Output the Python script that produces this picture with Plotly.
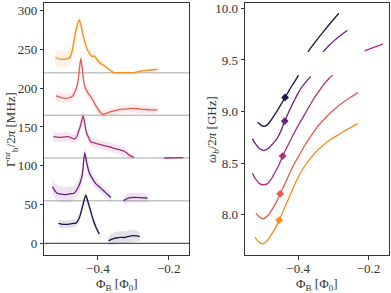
import plotly.graph_objects as go

# ---------------- data ----------------
colors = ['#1f1147', '#6a1d82', '#a7317a', '#e65b50', '#fb8c16']
offsets = [0, 55, 110, 165, 220]

# Left panel: Gamma_nr/2pi [MHz] (raw, before vertical offset); None = gap
g_x_navy = [-0.511, -0.498, -0.485, -0.472, -0.462, -0.452, -0.443, -0.434, -0.427, -0.420, -0.413, -0.406, -0.396,
            None, -0.370, -0.362, -0.354, -0.345, -0.335, -0.325, -0.316, -0.307, -0.298, -0.290, -0.282]
g_y_navy = [25.8, 24.5, 24.5, 25.5, 26, 33, 48, 62, 52, 41, 30, 21.4, 12,
            None, 3, 5, 6.4, 7, 7.7, 7.5, 8.5, 9.5, 9.8, 9.5, 8.5]
g_e_navy = [5, 5, 5, 5, 5, 5, 5, 5, 5, 5, 5, 5, 5,
            None, 6, 7, 8, 8, 8, 8, 8, 8, 8, 7, 6]

g_x_purple = [-0.528, -0.520, -0.514, -0.500, -0.485, -0.475, -0.467, -0.458, -0.450, -0.444, -0.437, -0.431, -0.425,
              -0.415, -0.406, -0.396, -0.387, -0.375, -0.363,
              None, -0.328, -0.322, -0.316, -0.307, -0.298, -0.280, -0.260]
g_y_purple = [18, 12, 9.5, 8, 8, 9, 9.5, 15, 23, 33, 62, 48, 37,
              28, 22, 18, 14, 9, 4,
              None, 0, 1.5, 3, 4, 4.3, 4, 3.4]
g_e_purple = [10, 10, 10, 10, 10, 10, 9, 9, 9, 9, 8, 8, 8,
              7, 7, 6, 6, 6, 5,
              None, 5, 6, 6, 6, 6, 6, 5]

g_x_magenta = [-0.525, -0.509, -0.497, -0.485, -0.475, -0.467, -0.460, -0.453, -0.447, -0.442, -0.438, -0.434, -0.427,
               -0.420, -0.406, -0.394, -0.382, -0.368, -0.354, -0.342, -0.330, -0.320, -0.312, -0.305, -0.298,
               None, -0.213, -0.159]
g_y_magenta = [27.5, 26.7, 27, 27.5, 26, 24.5, 27, 36, 45, 54, 48, 36, 27,
               21, 19, 17.5, 16, 14.5, 12.5, 11, 9.4, 7, 4, 2, 1,
               None, 0, 0.5]
g_e_magenta = [6, 6, 6, 6, 6, 6, 6, 7, 7, 8, 7, 7, 6,
               6, 6, 6, 6, 6, 6, 6, 6, 5, 4, 3, 2,
               None, 1, 1]

g_x_red = [-0.518, -0.504, -0.490, -0.478, -0.471, -0.464, -0.457, -0.452, -0.448, -0.444, -0.439, -0.432, -0.420,
           -0.410, -0.401, -0.393, -0.387, -0.375, -0.363, -0.349, -0.335, -0.321, -0.307, -0.290, -0.270, -0.250, -0.232]
g_y_red = [25, 23, 22, 23, 25, 31, 41, 60, 73.6, 60, 41, 32, 24,
           16, 9, 4, 1.4, 3, 4.7, 6.5, 7.8, 8, 9, 8.5, 7.8, 7, 7]
g_e_red = [6, 6, 6, 6, 6, 7, 7, 8, 8, 8, 7, 7, 6,
           6, 6, 5, 5, 5, 5, 5, 5, 5, 5, 5, 5, 5, 4]

g_x_orange = [-0.520, -0.512, -0.504, -0.492, -0.481, -0.474, -0.467, -0.460, -0.453, -0.448, -0.443, -0.436, -0.429,
              -0.422, -0.415, -0.410, -0.401, -0.392, -0.382, -0.373, -0.363, -0.354, -0.330, -0.298, -0.285, -0.270,
              -0.250, -0.232]
g_y_orange = [19.9, 18, 17.3, 17.5, 18.6, 25, 42, 58, 68, 62, 51, 38, 29,
              24, 20.7, 21.6, 16, 12, 9, 5.7, 2.5, 0, 0, 0, 1.5, 2.6,
              3.5, 4.4]
g_e_orange = [10, 10, 10, 10, 10, 9, 9, 9, 9, 8, 8, 7, 6,
              5, 5, 5, 5, 4, 4, 3, 2, 1.5, 1.5, 1.5, 2, 2,
              3, 3]

# Right panel: omega_b/2pi [GHz]; None = gap
w_x_navy = [-0.515, -0.506, -0.497, -0.488, -0.478, -0.468, -0.457, -0.447, -0.437, -0.427, -0.418, -0.408, -0.399,
            None, -0.372, -0.350, -0.328, -0.306, -0.284]
w_y_navy = [8.895, 8.868, 8.856, 8.870, 8.910, 8.963, 9.020, 9.078, 9.136, 9.195, 9.247, 9.300, 9.353,
            None, 9.579, 9.680, 9.775, 9.866, 9.953]

w_x_purple = [-0.530, -0.520, -0.510, -0.497, -0.485, -0.474, -0.463, -0.450, -0.438, -0.426, -0.414, -0.402,
              -0.389, -0.376, -0.364,
              None, -0.329, -0.312, -0.295, -0.277, -0.260]
w_y_purple = [8.737, 8.680, 8.640, 8.623, 8.640, 8.680, 8.721, 8.800, 8.907, 9.000, 9.085, 9.166,
              9.240, 9.295, 9.341,
              None, 9.579, 9.640, 9.695, 9.745, 9.786]

w_x_magenta = [-0.530, -0.520, -0.510, -0.498, -0.487, -0.477, -0.468, -0.456, -0.444, -0.432, -0.419, -0.402,
               -0.385, -0.370, -0.355, -0.340, -0.325, -0.312, -0.302,
               None, -0.211, -0.185, -0.159]
w_y_magenta = [8.402, 8.340, 8.300, 8.289, 8.300, 8.340, 8.396, 8.470, 8.567, 8.650, 8.740, 8.850,
               8.950, 9.040, 9.126, 9.200, 9.270, 9.320, 9.353,
               None, 9.589, 9.622, 9.654]

w_x_red = [-0.520, -0.510, -0.499, -0.486, -0.473, -0.462, -0.451, -0.440, -0.426, -0.411, -0.397, -0.383,
           -0.369, -0.355, -0.345, -0.326, -0.307, -0.288, -0.270, -0.250, -0.230]
w_y_red = [8.013, 7.975, 7.958, 7.990, 8.055, 8.120, 8.201, 8.280, 8.385, 8.493, 8.575, 8.660,
           8.735, 8.805, 8.852, 8.925, 8.990, 9.047, 9.095, 9.140, 9.183]

w_x_orange = [-0.523, -0.512, -0.501, -0.489, -0.478, -0.466, -0.454, -0.438, -0.421, -0.402, -0.383, -0.364,
              -0.345, -0.326, -0.307, -0.288, -0.269, -0.250, -0.231]
w_y_orange = [7.779, 7.735, 7.715, 7.740, 7.796, 7.860, 7.945, 8.070, 8.201, 8.347, 8.461, 8.550,
              8.623, 8.680, 8.730, 8.768, 8.810, 8.845, 8.882]

# Diamond markers (peak positions)
peak_flux = [-0.437, -0.438, -0.444, -0.451, -0.454]
peak_freq = [9.136, 8.907, 8.567, 8.201, 7.945]

x_ticks = [-0.4, -0.2]
gamma_ticks = [0, 50, 100, 150, 200, 250, 300]
freq_ticks = [8.0, 8.5, 9.0, 9.5, 10.0]

gamma_series = [(g_x_navy, g_y_navy, g_e_navy), (g_x_purple, g_y_purple, g_e_purple),
                (g_x_magenta, g_y_magenta, g_e_magenta), (g_x_red, g_y_red, g_e_red),
                (g_x_orange, g_y_orange, g_e_orange)]
freq_series = [(w_x_navy, w_y_navy), (w_x_purple, w_y_purple), (w_x_magenta, w_y_magenta),
               (w_x_red, w_y_red), (w_x_orange, w_y_orange)]


# ---------------- helpers ----------------
def split_segments(*cols):
    segs, cur = [], [[] for _ in cols]
    for vals in zip(*cols):
        if vals[0] is None:
            if cur[0]:
                segs.append(cur)
            cur = [[] for _ in cols]
        else:
            for c, v in zip(cur, vals):
                c.append(v)
    if cur[0]:
        segs.append(cur)
    return segs


def rgba(hexc, a):
    h = hexc.lstrip('#')
    r, g, b = int(h[0:2], 16), int(h[2:4], 16), int(h[4:6], 16)
    return f'rgba({r},{g},{b},{a})'


fig = go.Figure()

# Left panel
for (xs, ys, es), col, off in zip(gamma_series, colors, offsets):
    for sx, sy, se in split_segments(xs, ys, es):
        up = [y + off + e for y, e in zip(sy, se)]
        lo = [y + off - e for y, e in zip(sy, se)]
        fig.add_trace(go.Scatter(x=sx + sx[::-1], y=up + lo[::-1], fill='toself', mode='none',
                                 fillcolor=rgba(col, 0.12), hoverinfo='skip', showlegend=False,
                                 xaxis='x', yaxis='y'))
    fig.add_trace(go.Scatter(x=xs, y=[None if y is None else y + off for y in ys], mode='lines',
                             line=dict(color=col, width=1.3, shape='spline', smoothing=0.6),
                             connectgaps=False, showlegend=False, xaxis='x', yaxis='y'))

# Right panel
for (xs, ys), col in zip(freq_series, colors):
    fig.add_trace(go.Scatter(x=xs, y=ys, mode='lines',
                             line=dict(color=col, width=1.3, shape='spline', smoothing=0.8),
                             connectgaps=False, showlegend=False, xaxis='x2', yaxis='y2'))
for px_, py_, col in zip(peak_flux, peak_freq, colors):
    fig.add_trace(go.Scatter(x=[px_], y=[py_], mode='markers',
                             marker=dict(symbol='diamond', size=6, color=col, line=dict(width=0)),
                             showlegend=False, xaxis='x2', yaxis='y2'))

# Baselines
shapes = []
for off in offsets:
    shapes.append(dict(type='line', xref='x domain', yref='y', x0=0, x1=1, y0=off, y1=off,
                       line=dict(color='#555555' if off == 0 else '#c4c4c4', width=1.2 if off == 0 else 1.5),
                       layer='below'))

font_family = 'Liberation Serif, DejaVu Serif, serif'
axis_common = dict(showline=True, linecolor='#333333', linewidth=1, mirror=True, ticks='outside',
                   ticklen=3.5, tickwidth=1, tickcolor='#333333', showgrid=False, zeroline=False,
                   automargin=False, tickfont=dict(family=font_family, size=13, color='#333333'))

fig.update_layout(
    width=391, height=293, margin=dict(l=0, r=0, t=0, b=0),
    paper_bgcolor='white', plot_bgcolor='white', showlegend=False,
    shapes=shapes,
    xaxis=dict(domain=[44.3 / 391, 189 / 391], range=[-0.551, -0.143], tickvals=x_ticks,
               anchor='y', ticklabelstandoff=-2, **axis_common),
    yaxis=dict(domain=[1 - 255 / 293, 1 - 3.3 / 293], range=[-15.1, 309.5], tickvals=gamma_ticks,
               anchor='x', **axis_common),
    xaxis2=dict(domain=[245 / 391, 388.5 / 391], range=[-0.551, -0.143], tickvals=x_ticks,
                anchor='y2', ticklabelstandoff=-2, **axis_common),
    yaxis2=dict(domain=[1 - 255 / 293, 1 - 3.3 / 293], range=[7.607, 10.05], tickvals=freq_ticks,
                tickformat='.1f', anchor='x2', **axis_common),
    annotations=[
        dict(text='Φ<sub>B</sub> [Φ<sub>0</sub>]', xref='paper', yref='paper', x=116.5 / 391, y=1 - 284.5 / 293,
             showarrow=False, xanchor='center', yanchor='middle', font=dict(family=font_family, size=13, color='#333333')),
        dict(text='Φ<sub>B</sub> [Φ<sub>0</sub>]', xref='paper', yref='paper', x=317 / 391, y=1 - 284.5 / 293,
             showarrow=False, xanchor='center', yanchor='middle', font=dict(family=font_family, size=13, color='#333333')),
        dict(text='Γ<sup>nr</sup><sub>b</sub>/2<i>π</i> [MHz]', xref='paper', yref='paper', x=11 / 391, y=1 - 130 / 293,
             showarrow=False, textangle=-90, xanchor='center', yanchor='middle',
             font=dict(family=font_family, size=13, color='#333333')),
        dict(text='<i>ω<sub>b</sub></i>/2<i>π</i> [GHz]', xref='paper', yref='paper', x=213 / 391, y=1 - 130 / 293,
             showarrow=False, textangle=-90, xanchor='center', yanchor='middle',
             font=dict(family=font_family, size=13, color='#333333')),
    ],
)

fig.write_html('out.html', config={'displayModeBar': False},
               post_script="document.body.style.margin='0';document.body.style.padding='0';")
